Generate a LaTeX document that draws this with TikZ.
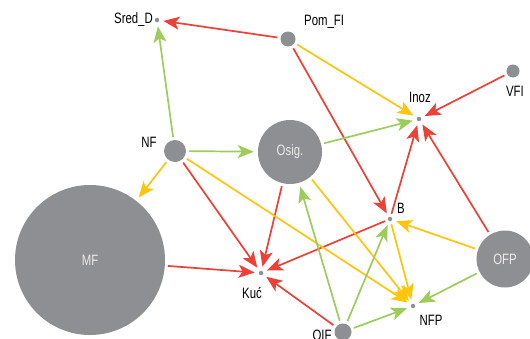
\documentclass[tikz,border=0pt]{standalone}
\usepackage{fontspec}
\setmainfont{Liberation Sans}[FakeStretch=0.76]
\usetikzlibrary{arrows.meta}
\definecolor{cred}{HTML}{EC4136}
\definecolor{cyel}{HTML}{FFC40C}
\definecolor{cgrn}{HTML}{9CCC5C}
\definecolor{cgray}{HTML}{8E8F93}
\definecolor{ctxt}{HTML}{EBEBEB}
\begin{document}
\begin{tikzpicture}[x=1pt,y=-1pt,
  font=\fontsize{15}{17}\selectfont,
  ball/.style={circle,fill=cgray,inner sep=0pt,minimum size=#1,text=ctxt},
  dot/.style={circle,fill=cgray,inner sep=0pt,minimum size=4.5pt},
  lbl/.style={text=black,inner sep=0pt},
  edge/.style={line width=1.7pt,-{Stealth[length=16pt,width=13pt,inset=4pt]},shorten <=3pt,shorten >=4pt},
  er/.style={edge,draw=cred},
  ey/.style={edge,draw=cyel},
  eg/.style={edge,draw=cgrn}]
\useasboundingbox (0,0) rectangle (530,338);
% nodes
\node[dot] (SredD) at (157,20) {};
\node[ball=15pt] (PomFI) at (288,39) {};
\node[dot] (Inoz) at (419,119) {};
\node[ball=13pt] (VFI) at (513,71) {};
\node[ball=22pt] (NF) at (175,151) {};
\node[ball=64pt] (Osig) at (290,152) {Osig.};
\node[ball=150pt] (MF) at (90,260) {MF};
\node[dot] (B) at (390,219) {};
\node[dot] (Kuc) at (261,273) {};
\node[dot] (NFP) at (413,306) {};
\node[ball=17pt] (OIF) at (343,332) {};
\node[ball=57pt] (OFP) at (505,259) {OFP};
% labels
\node[lbl,anchor=east] (tSredD) at (153,20) {Sred\_D};
\node[lbl,anchor=west] (tPomFI) at (304,22) {Pom\_FI};
\node[lbl] (tInoz) at (420,97) {Inoz};
\node[lbl] (tVFI) at (515,91) {VFI};
\node[lbl] (tNF) at (149,142) {NF};
\node[lbl] (tB) at (401,208) {B};
\node[lbl] (tKuc) at (252,293) {Kuć};
\node[lbl] (tNFP) at (431,320) {NFP};
\node[lbl] (tOIF) at (322,335) {OIF};
% red edges
\draw[er] (PomFI) -- (SredD);
\draw[er] (PomFI) -- (B);
\draw[er] (VFI) -- (Inoz);
\draw[er] (NF) -- (Kuc);
\draw[er] (Osig) -- (Kuc);
\draw[er] (MF) -- (Kuc);
\draw[er] (B) -- (Kuc);
\draw[er] (B) -- (Inoz);
\draw[er] (OFP) -- (Inoz);
\draw[er] (OIF) -- (Kuc);
% yellow edges
\draw[ey] (PomFI) -- (Inoz);
\draw[ey] (NF) -- (MF);
\draw[ey] (NF) -- (NFP);
\draw[ey] (Osig) -- (NFP);
\draw[ey] (B) -- (NFP);
\draw[ey] (OFP) -- (B);
% green edges
\draw[eg] (NF) -- (SredD);
\draw[eg] (NF) -- (Osig);
\draw[eg] (Osig) -- (Inoz);
\draw[eg] (OIF) -- (Osig);
\draw[eg] (OIF) -- (B);
\draw[eg] (OIF) -- (NFP);
\draw[eg] (OFP) -- (NFP);
\end{tikzpicture}
\end{document}
